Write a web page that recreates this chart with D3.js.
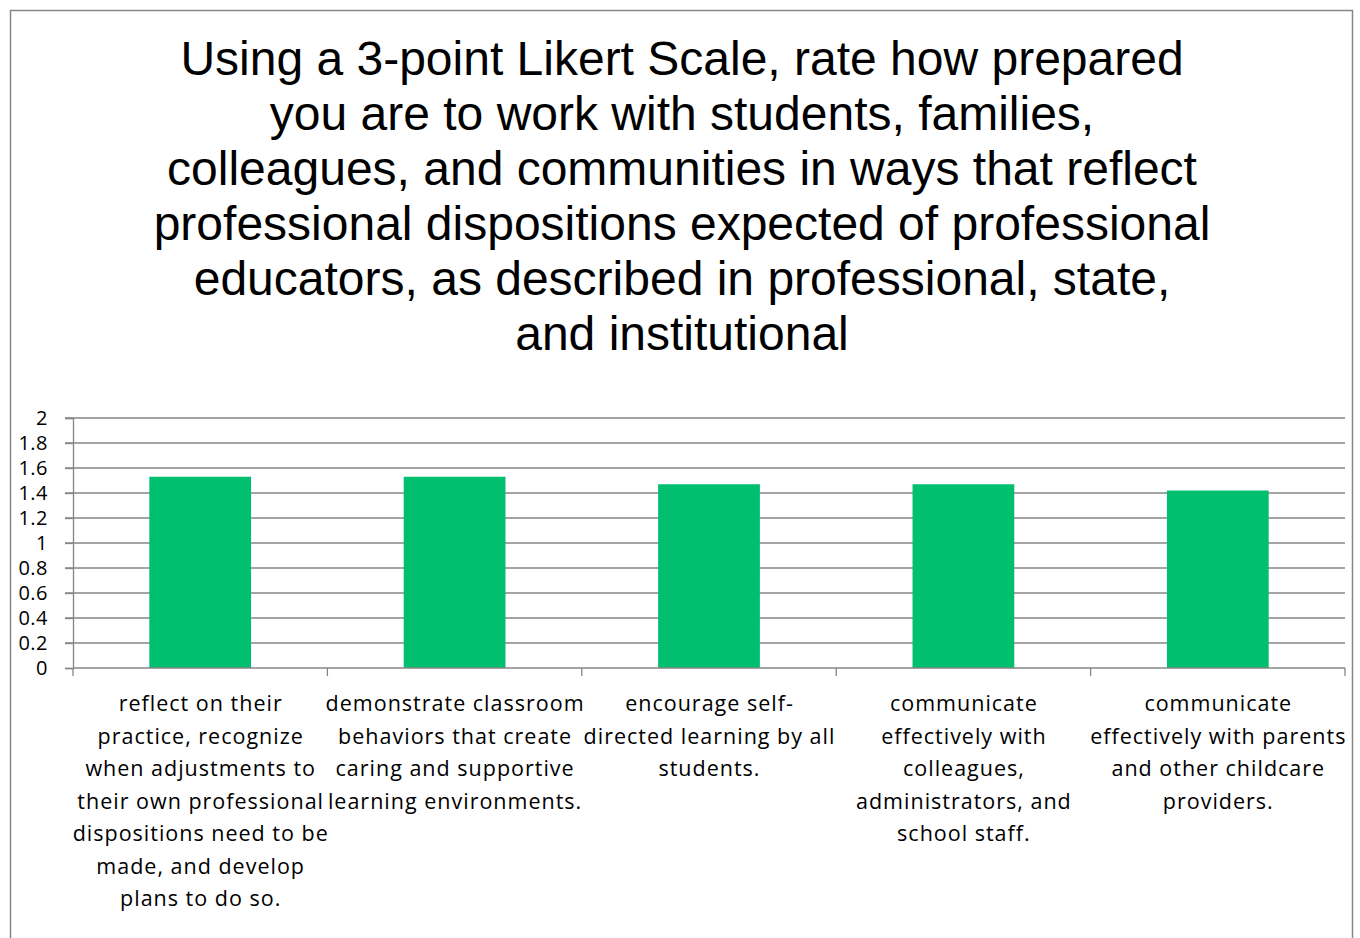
<!DOCTYPE html>
<html>
<head>
<meta charset="utf-8">
<script src="https://cdn.jsdelivr.net/npm/d3@7"></script>
<style>
  body { margin: 0; background: #fff; }
  svg { display: block; }
</style>
</head>
<body>
<div id="chart"></div>
<script>
// chart data
const titleLines = [
    "Using a 3-point Likert Scale, rate how prepared",
    "you are to work with students, families,",
    "colleagues, and communities in ways that reflect",
    "professional dispositions expected of professional",
    "educators, as described in professional, state,",
    "and institutional"
];
const categories = [
    "reflect on their practice, recognize when adjustments to their own professional dispositions need to be made, and develop plans to do so.",
    "demonstrate classroom behaviors that create caring and supportive learning environments.",
    "encourage self-directed learning by all students.",
    "communicate effectively with colleagues, administrators, and school staff.",
    "communicate effectively with parents and other childcare providers."
];
// line breaks as they appear under each bar
const categoryLines = [
    ["reflect on their", "practice, recognize", "when adjustments to", "their own professional", "dispositions need to be", "made, and develop", "plans to do so."],
    ["demonstrate classroom", "behaviors that create", "caring and supportive", "learning environments."],
    ["encourage self-", "directed learning by all", "students."],
    ["communicate", "effectively with", "colleagues,", "administrators, and", "school staff."],
    ["communicate", "effectively with parents", "and other childcare", "providers."]
];
const values = [1.53, 1.53, 1.47, 1.47, 1.42];
const yTicks = [0, 0.2, 0.4, 0.6, 0.8, 1, 1.2, 1.4, 1.6, 1.8, 2];

const W = 1360, H = 938;
const margin = { top: 418, right: 15, bottom: 270, left: 73 };
const innerW = W - margin.left - margin.right;
const innerH = H - margin.top - margin.bottom;
const gridColor = "#868686";
const labelFont = "'Open Sans', Lato, sans-serif";

const svg = d3.select("#chart")
    .append("svg")
    .attr("width", W)
    .attr("height", H);

svg.append("rect")
    .attr("width", W).attr("height", H)
    .attr("fill", "#fff");

// outer frame
svg.append("rect")
    .attr("x", 10.5).attr("y", 10.5)
    .attr("width", 1342).attr("height", 940)
    .attr("fill", "none")
    .attr("stroke", gridColor)
    .attr("stroke-width", 1.5);

// title
svg.append("text")
    .attr("x", 682)
    .attr("y", 75)
    .attr("text-anchor", "middle")
    .style("font-family", "'Liberation Sans', Arial, sans-serif")
    .style("font-size", "48px")
    .attr("fill", "#000")
    .selectAll("tspan")
    .data(titleLines)
    .join("tspan")
    .attr("x", 682)
    .attr("dy", (d, i) => i === 0 ? 0 : 55)
    .text(d => d);

const g = svg.append("g")
    .attr("transform", `translate(${margin.left},${margin.top})`);

const x = d3.scaleBand()
    .domain(categories)
    .range([0, innerW])
    .paddingInner(0.6)
    .paddingOuter(0.3);

const y = d3.scaleLinear()
    .domain([0, 2])
    .range([innerH, 0]);

// gridlines
g.append("g")
    .selectAll("line")
    .data(yTicks.filter(d => d > 0))
    .join("line")
    .attr("x1", -8)
    .attr("x2", innerW)
    .attr("y1", d => y(d))
    .attr("y2", d => y(d))
    .attr("stroke", gridColor)
    .attr("stroke-width", 1.3);

// y axis
const yAxis = g.append("g")
    .call(d3.axisLeft(y).tickValues(yTicks).tickSize(8).tickPadding(17).tickFormat(d3.format("~g")));
yAxis.select(".domain").attr("stroke", gridColor).attr("stroke-width", 1.3);
yAxis.selectAll(".tick line").attr("stroke", gridColor).attr("stroke-width", 1.3);
yAxis.selectAll(".tick text")
    .style("font-family", labelFont)
    .style("font-size", "20px")
    .style("letter-spacing", "0.5px")
    .attr("fill", "#000");

// bars
g.selectAll(".bar")
    .data(categories)
    .join("rect")
    .attr("class", "bar")
    .attr("x", d => x(d))
    .attr("y", (d, i) => y(values[i]))
    .attr("width", x.bandwidth())
    .attr("height", (d, i) => innerH - y(values[i]))
    .attr("fill", "#00BF6F");

// x axis with ticks between categories
const step = x.step();
const boundaries = d3.range(categories.length + 1).map(i => i * step);
g.append("line")
    .attr("x1", 0).attr("x2", innerW)
    .attr("y1", innerH).attr("y2", innerH)
    .attr("stroke", gridColor)
    .attr("stroke-width", 1.3);
g.append("g")
    .selectAll("line")
    .data(boundaries)
    .join("line")
    .attr("x1", d => d).attr("x2", d => d)
    .attr("y1", innerH).attr("y2", innerH + 8)
    .attr("stroke", gridColor)
    .attr("stroke-width", 1.3);

// category labels
g.append("g")
    .selectAll("text")
    .data(categories)
    .join("text")
    .attr("text-anchor", "middle")
    .attr("y", innerH + 43)
    .style("font-family", labelFont)
    .style("font-size", "21.5px")
    .style("letter-spacing", "1px")
    .attr("fill", "#000")
    .each(function (d, i) {
        const cx = x(d) + x.bandwidth() / 2 + 0.5;
        d3.select(this).selectAll("tspan")
            .data(categoryLines[i])
            .join("tspan")
            .attr("x", cx)
            .attr("dy", (t, j) => j === 0 ? 0 : 32.5)
            .text(t => t);
    });
</script>
</body>
</html>
